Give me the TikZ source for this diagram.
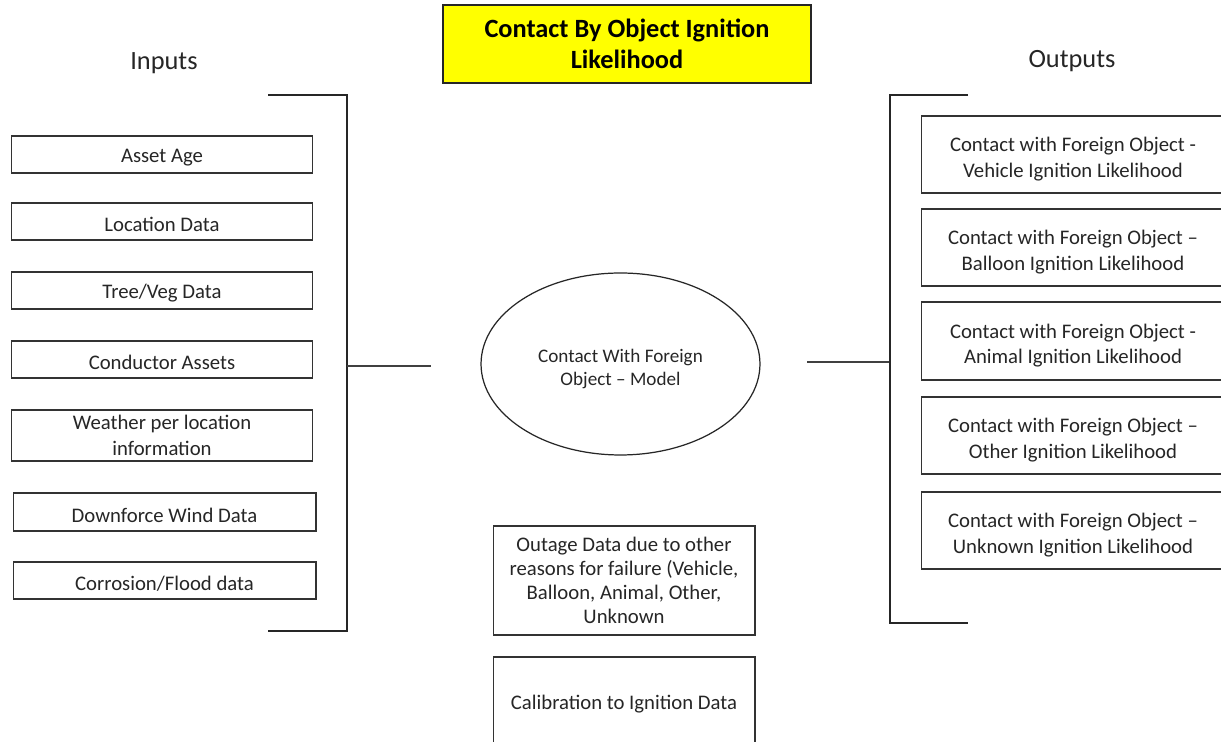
\documentclass[tikz,border=0pt]{standalone}
\usepackage{fontspec}
\setmainfont{Carlito}
\usetikzlibrary{shapes.geometric}
\definecolor{txt}{HTML}{262626}
\definecolor{ttl}{HTML}{FFFF00}
\newcommand{\lift}{\rule{0pt}{13.4pt}}
\tikzset{
  box/.style={draw=black!80, line width=0.6pt, rectangle, align=center, text=txt,
    font=\fontsize{11.8}{14.7}\selectfont, inner sep=0pt,
    execute at begin node={\rule{0pt}{11.6pt}}},
  inbox/.style={box, minimum width=6.04cm, minimum height=0.74cm},
  outbox/.style={box, minimum width=6.08cm, minimum height=1.54cm},
  midbox/.style={box, minimum width=5.24cm},
  bracket/.style={draw=black!85, line width=0.8pt},
  link/.style={draw=black!75, line width=1.1pt},
  heading/.style={font=\fontsize{15}{18}\selectfont, text=txt, inner sep=0pt},
}
\begin{document}
\begin{tikzpicture}[x=0.02cm, y=-0.02cm]
\useasboundingbox (0,0) rectangle (1221,742);
\clip (0,0) rectangle (1221,742);
\fill[white] (0,0) rectangle (1221,742);

% title
\node[draw=black!85, line width=0.8pt, fill=ttl, minimum width=7.36cm, minimum height=1.56cm,
  align=center, font=\fontsize{15}{18}\selectfont\bfseries, inner sep=0pt] (title) at (627,44)
  {Contact By Object Ignition\\Likelihood};

% headings
\node[heading] (inputs) at (164,63) {Inputs};
\node[heading] (outputs) at (1072,61) {Outputs};

% input boxes
\node[inbox] (age) at (162,154.5) {Asset Age};
\node[inbox] (loc) at (162,221.5) {Location Data};
\node[inbox] (tree) at (162,290.5) {Tree/Veg Data};
\node[inbox] (cond) at (162,359.5) {Conductor Assets};
\node[inbox, minimum height=1.02cm] (weather) at (162,435.5) {Weather per location\\information};
\node[inbox, minimum width=6.06cm, minimum height=0.76cm] (wind) at (164.5,512) {Downforce Wind Data};
\node[inbox, minimum width=6.06cm] (flood) at (164.5,580.5) {Corrosion/Flood data};

% input bracket
\coordinate (itop) at (268,95);
\coordinate (itopr) at (347,95);
\coordinate (ibotr) at (347,631);
\coordinate (ibot) at (268,631);
\coordinate (imid) at (347,366);
\coordinate (iend) at (431,366);
\draw[bracket] (itop) -- (itopr) -- (ibotr) -- (ibot);
\draw[link] (imid) -- (iend);

% model
\node[draw=black!85, line width=0.7pt, ellipse, minimum width=5.58cm, minimum height=3.64cm,
  inner sep=0pt, align=center, text=txt, font=\fontsize{10.9}{13}\selectfont] (model) at (620.5,364)
  {\rule{0pt}{13.6pt}Contact With Foreign\\Object -- Model};

% output bracket
\coordinate (ostart) at (807,362);
\coordinate (omid) at (890,362);
\coordinate (otop) at (968,95);
\coordinate (otopl) at (890,95);
\coordinate (obotl) at (890,623);
\coordinate (obot) at (968,623);
\draw[link] (ostart) -- (omid);
\draw[bracket] (otop) -- (otopl) -- (obotl) -- (obot);

% output boxes
\node[outbox] (veh) at (1073,154.5) {\lift Contact with Foreign Object -\\Vehicle Ignition Likelihood};
\node[outbox] (bal) at (1073,247.5) {\lift Contact with Foreign Object --\\Balloon Ignition Likelihood};
\node[outbox, minimum height=1.56cm] (ani) at (1073,341) {\lift Contact with Foreign Object -\\Animal Ignition Likelihood};
\node[outbox] (oth) at (1073,435.5) {\lift Contact with Foreign Object --\\Other Ignition Likelihood};
\node[outbox] (unk) at (1073,530.5) {\lift Contact with Foreign Object --\\Unknown Ignition Likelihood};

% bottom boxes
\node[midbox, minimum height=2.18cm, font=\fontsize{11.8}{13.7}\selectfont] (outage) at (624,580.5)
  {Outage Data due to other\\reasons for failure (Vehicle,\\Balloon, Animal, Other,\\Unknown};
\node[midbox, minimum height=1.76cm] (calib) at (624,701) {Calibration to Ignition Data};
\end{tikzpicture}
\end{document}
